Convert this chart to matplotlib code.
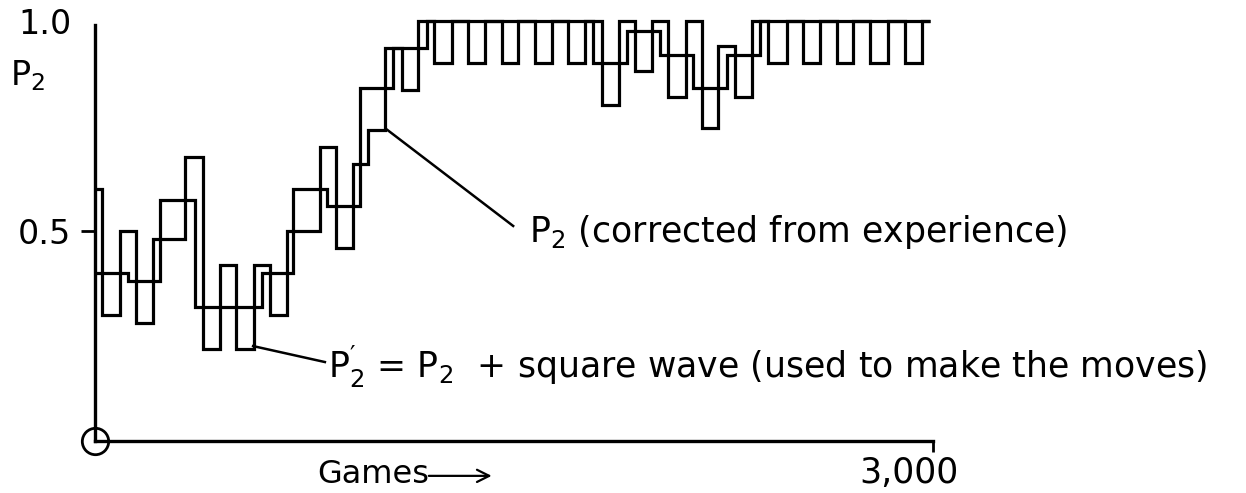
import matplotlib.pyplot as plt

# P2 (corrected from experience): step edges in games and value on each step
p2_edges = [0, 118, 233, 358, 598, 709, 831, 949, 1067, 1189, 1783, 1905,
            2023, 2141, 2263, 2381, 2990]
p2_values = [0.40, 0.38, 0.575, 0.32, 0.40, 0.60, 0.56, 0.84, 0.935, 1.0,
             0.90, 0.975, 0.92, 0.84, 0.92, 1.0]

# P2' = P2 + square wave (used to make the moves)
p2w_edges = [0, 25, 90, 147, 208, 322, 387, 448, 505, 569, 627, 687, 806,
             863, 924, 977, 1038, 1099, 1156, 1214, 1278, 1335, 1396, 1457,
             1514, 1575, 1636, 1693, 1754, 1815, 1876, 1933, 1994, 2051,
             2116, 2173, 2230, 2291, 2352, 2409, 2477, 2535, 2596, 2656,
             2714, 2775, 2839, 2900, 2961, 2990]
p2w_values = [0.60, 0.30, 0.50, 0.28, 0.48, 0.675, 0.22, 0.42, 0.22, 0.42,
              0.30, 0.50, 0.70, 0.46, 0.66, 0.74, 0.935, 0.835, 1.0, 0.90,
              1.0, 0.90, 1.0, 0.90, 1.0, 0.90, 1.0, 0.90, 1.0, 0.80,
              1.0, 0.88, 1.0, 0.82, 1.0, 0.745, 0.94, 0.82, 1.0, 0.90,
              1.0, 0.90, 1.0, 0.90, 1.0, 0.90, 1.0, 0.90, 1.0]

y_ticks = [0.5, 1.0]
y_ticklabels = ['0.5', '1.0']

plt.rcParams['font.family'] = ['DejaVu Sans']
fs = 25

fig = plt.figure(figsize=(12.46, 4.93), dpi=100)
ax = fig.add_axes([95 / 1246, 52 / 493, 838 / 1246, 420 / 493])
ax.set_xlim(0, 3000)
ax.set_ylim(0, 1)

ax.stairs(p2_values, p2_edges, baseline=None, color='black', lw=2.3, clip_on=False)
ax.stairs(p2w_values, p2w_edges, baseline=None, color='black', lw=2.3, clip_on=False)

# axes
for s in ['top', 'right']:
    ax.spines[s].set_visible(False)
ax.spines['left'].set_bounds(0, 0.99)
ax.spines['bottom'].set_bounds(0, 3000)
ax.spines['left'].set_linewidth(2.4)
ax.spines['bottom'].set_linewidth(2.4)

ax.set_yticks(y_ticks)
ax.set_yticklabels(y_ticklabels, fontsize=24)
ax.tick_params(axis='y', length=10, width=2, pad=7)
ax.yaxis.get_major_ticks()[1].tick1line.set_visible(False)
ax.set_xticks([3000])
ax.set_xticklabels([''])
ax.tick_params(axis='x', length=8, width=2)

ax.plot([0], [0], marker='o', ms=19, mfc='none', mec='black', mew=2, clip_on=False)

ax.text(-305, 0.848, r'$\mathregular{P_2}$', fontsize=24, va='baseline')
ax.text(2915, -0.10, '3,000', fontsize=fs, ha='center', va='baseline')
ax.text(795, -0.10, 'Games', fontsize=23, va='baseline')
ax.annotate('', xy=(1430, -0.083), xytext=(1185, -0.083),
            arrowprops=dict(arrowstyle='->', lw=1.6, mutation_scale=22, color='black'),
            annotation_clip=False)

# labels with pointer lines
ax.plot([1042, 1497], [0.743, 0.512], color='black', lw=1.8)
ax.text(1555, 0.474, r'$\mathregular{P_2}$ (corrected from experience)',
        fontsize=fs, va='baseline')
ax.plot([566, 823], [0.226, 0.188], color='black', lw=1.8)
ax.text(834, 0.15, r'$\mathregular{P_2^{\prime}}$ = $\mathregular{P_2}$  + square wave (used to make the moves)',
        fontsize=fs, va='baseline')

fig.savefig('out.png', dpi=100)
